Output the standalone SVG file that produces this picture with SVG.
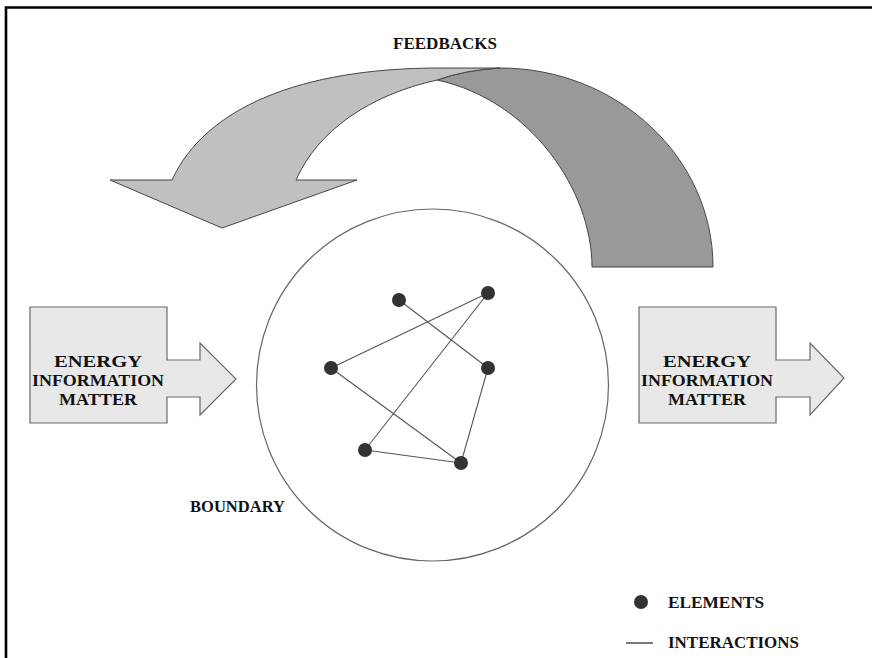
<svg xmlns="http://www.w3.org/2000/svg" width="872" height="658" viewBox="0 0 872 658">
<style>
.t{font-family:"Liberation Serif","Times New Roman",serif;font-weight:bold;font-size:17.5px;fill:#111}
.box{fill:#e8e8e8;stroke:#6a6a6a;stroke-width:1.2}
.dot{fill:#333}
.edge{stroke:#555;stroke-width:1.1;fill:none}
</style>
<rect width="872" height="658" fill="#fff"/>
<path d="M6,658 V7.5 H872" fill="none" stroke="#000" stroke-width="2.6"/>
<g id="feedbacks">
<path d="M437,80 Q465,70 500,68 C617,68 713,157 713,267 H592 C592,190 530,100 437,80 Z" fill="#999" stroke="#444" stroke-width="1"/>
<path d="M172,180 C205,108 300,68 440,68 L500,68 Q465,70 437,80 C370,95 318,130 296,180 H357 L222,228 L110,180 Z" fill="#c0c0c0" stroke="#444" stroke-width="1"/>
<text class="t" x="445" y="49" text-anchor="middle" textLength="104" lengthAdjust="spacingAndGlyphs">FEEDBACKS</text>
</g>
<g id="input">
<path class="box" d="M30,307 H167 V360 H200 V343 L236,379 L200,415 V397 H167 V423 H30 Z"/>
<text class="t" x="98" y="367" text-anchor="middle" textLength="88" lengthAdjust="spacingAndGlyphs">ENERGY</text>
<text class="t" x="98" y="386" text-anchor="middle" textLength="132" lengthAdjust="spacingAndGlyphs">INFORMATION</text>
<text class="t" x="98" y="405" text-anchor="middle" textLength="78" lengthAdjust="spacingAndGlyphs">MATTER</text>
</g>
<g id="output">
<path class="box" d="M639,307 H776 V360 H810 V343 L844,378 L810,415 V397 H776 V423 H639 Z"/>
<text class="t" x="707" y="367" text-anchor="middle" textLength="88" lengthAdjust="spacingAndGlyphs">ENERGY</text>
<text class="t" x="707" y="386" text-anchor="middle" textLength="132" lengthAdjust="spacingAndGlyphs">INFORMATION</text>
<text class="t" x="707" y="405" text-anchor="middle" textLength="78" lengthAdjust="spacingAndGlyphs">MATTER</text>
</g>
<g id="boundary">
<circle cx="432.5" cy="385" r="176" fill="none" stroke="#666" stroke-width="1.2"/>
<text class="t" x="190" y="512" textLength="95" lengthAdjust="spacingAndGlyphs">BOUNDARY</text>
</g>
<g id="connectors">
<line class="edge" x1="399" y1="300" x2="488" y2="368"/>
<line class="edge" x1="488" y1="293" x2="331" y2="368"/>
<line class="edge" x1="488" y1="293" x2="365" y2="450"/>
<line class="edge" x1="331" y1="368" x2="461" y2="463"/>
<line class="edge" x1="365" y1="450" x2="461" y2="463"/>
<line class="edge" x1="488" y1="368" x2="461" y2="463"/>
</g>
<g id="elements">
<circle id="e1" class="dot" cx="399" cy="300" r="7"/>
<circle id="e2" class="dot" cx="488" cy="293" r="7"/>
<circle id="e3" class="dot" cx="331" cy="368" r="7"/>
<circle id="e4" class="dot" cx="488" cy="368" r="7"/>
<circle id="e5" class="dot" cx="365" cy="450" r="7"/>
<circle id="e6" class="dot" cx="461" cy="463" r="7"/>
</g>
<g id="legend">
<circle class="dot" cx="641" cy="602" r="7"/>
<text class="t" x="668" y="608" textLength="96" lengthAdjust="spacingAndGlyphs">ELEMENTS</text>
<line x1="626" y1="643" x2="653" y2="643" stroke="#222" stroke-width="1.2"/>
<text class="t" x="668" y="648" textLength="131" lengthAdjust="spacingAndGlyphs">INTERACTIONS</text>
</g>
</svg>
